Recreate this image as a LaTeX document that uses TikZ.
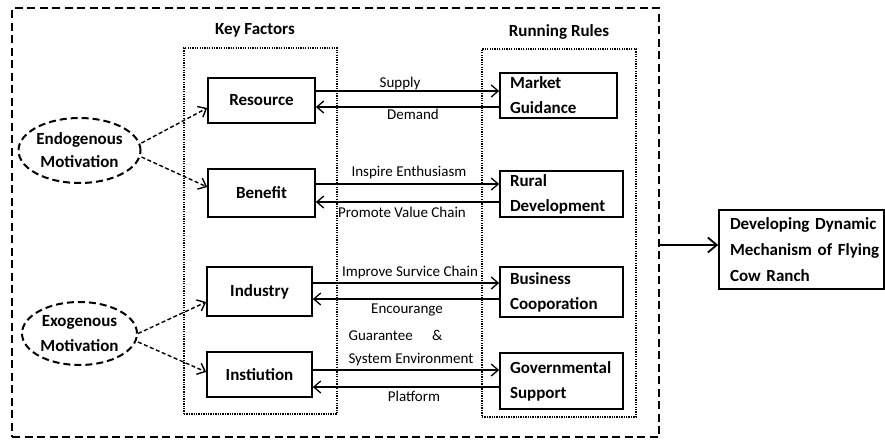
\documentclass[tikz,border=0pt]{standalone}
\usepackage{fontspec}
\setmainfont{Carlito}
\usetikzlibrary{arrows.meta,shapes.geometric}
\begin{document}
\begin{tikzpicture}[x=1pt,y=-1pt,
  box/.style={draw, line width=1.6pt, font=\bfseries\fontsize{17}{25}\selectfont, inner sep=0pt, align=center},
  rbox/.style={draw, line width=1.6pt, font=\bfseries\fontsize{17}{25}\selectfont, inner ysep=0pt, inner xsep=10pt, align=left},
  ell/.style={ellipse, draw, line width=2pt, dash pattern=on 7pt off 4pt, inner sep=0pt, align=center},
  frame/.style={draw, line width=2.5pt, dash pattern=on 8pt off 4.5pt, inner sep=0pt},
  dotbox/.style={draw, line width=1.3pt, dash pattern=on 1.3pt off 1.1pt, inner sep=0pt},
  head/.style={font=\bfseries\fontsize{17}{20}\selectfont},
  lab/.style={font=\fontsize{15}{23}\selectfont, inner sep=0pt},
  arr/.style={line width=1.2pt, -{Straight Barb[length=7pt,width=12pt,line width=1.3pt]}},
  darr/.style={line width=1.4pt, dash pattern=on 4pt off 2.5pt, -{Straight Barb[length=7pt,width=12pt,line width=1.4pt]}},
  bigarr/.style={line width=1.8pt, -{Straight Barb[length=9pt,width=15pt,line width=1.8pt]}}
]
\useasboundingbox (0,0) rectangle (885,439);

% frames
\node[frame, minimum width=647pt, minimum height=429pt] (frame) at (335.5,222.5) {};
\node[dotbox, minimum width=153pt, minimum height=366pt] (kf) at (260.5,231) {};
\node[dotbox, minimum width=154pt, minimum height=368pt] (rr) at (559,233) {};
\node[head] (kfl) at (255,30) {Key Factors};
\node[head] (rrl) at (559,32) {Running Rules};

% left boxes
\node[box, minimum width=107pt, minimum height=45pt] (res) at (261.5,100.5) {Resource};
\node[box, minimum width=107pt, minimum height=48pt] (ben) at (261.5,193) {Benefit};
\node[box, minimum width=105pt, minimum height=49pt] (ind) at (259.5,291.5) {Industry};
\node[box, minimum width=105pt, minimum height=45pt] (ins) at (259.5,374.5) {Instiution};

% right boxes
\node[rbox, text width=97pt, minimum height=45pt] (mg) at (558.5,95.5) {Market\\Guidance};
\node[rbox, text width=103pt, minimum height=46pt] (rd) at (561.5,194) {Rural\\Development};
\node[rbox, text width=103pt, minimum height=50pt] (bc) at (561.5,292) {Business\\Cooporation};
\node[rbox, text width=103pt, minimum height=56pt] (gs) at (561.5,381) {Governmental\\Support};

% result box
\node[draw, line width=1.6pt, font=\bfseries\fontsize{17}{26}\selectfont, inner ysep=0pt, inner xsep=11pt, align=left, text width=143pt, minimum height=79pt] (dev) at (801.5,249.5) {\makebox[148pt][s]{Developing Dynamic}\\\mbox{Mechanism of Flying}\\Cow Ranch};

% ellipses
\node[ell, minimum width=115pt, minimum height=65pt, font=\bfseries\fontsize{17}{23}\selectfont] (endo) at (79.5,150.5) {Endogenous\\Motivation};
\node[ell, minimum width=115pt, minimum height=63pt, font=\bfseries\fontsize{17}{25}\selectfont] (exo) at (79.5,333.5) {Exogenous\\Motivation};

% ellipse arrows
\draw[darr] ([yshift=7.5pt]endo.east) -- ([yshift=-7.5pt]res.west);
\draw[darr] ([yshift=-6.5pt]endo.east) -- ([yshift=6pt]ben.west);
\draw[darr] (exo.east) -- ([yshift=-10.5pt]ind.west);
\draw[darr] ([yshift=-8.5pt]exo.east) -- ([yshift=2.5pt]ins.west);

% two-way arrows
\draw[arr] ([yshift=9.5pt]res.east) -- ([yshift=9.5pt]res.east -| mg.west)
  node[lab, midway, yshift=8pt, xshift=-7.5pt] (l1) {Supply};
\draw[arr] ([yshift=-6.5pt]res.east -| mg.west) -- ([yshift=-6.5pt]res.east)
  node[lab, midway, yshift=-7pt, xshift=5.5pt] (l2) {Demand};

\draw[arr] ([yshift=9pt]ben.east) -- ([yshift=9pt]ben.east -| rd.west)
  node[lab, midway, yshift=12pt, xshift=1.5pt] (l3) {Inspire Enthusiasm};
\draw[arr] ([yshift=-9pt]ben.east -| rd.west) -- ([yshift=-9pt]ben.east)
  node[lab, midway, yshift=-10pt, xshift=-5.5pt] (l4) {Promote Value Chain};

\draw[arr] ([yshift=8.5pt]ind.east) -- ([yshift=8.5pt]ind.east -| bc.west)
  node[lab, midway, yshift=11pt, xshift=4pt] (l5) {Improve Survice Chain};
\draw[arr] ([yshift=-7.5pt]ind.east -| bc.west) -- ([yshift=-7.5pt]ind.east)
  node[lab, midway, yshift=-11pt, xshift=1pt] (l6) {Encourange};

\draw[arr] ([yshift=4.5pt]ins.east) -- ([yshift=4.5pt]ins.east -| gs.west)
  node[lab, midway, yshift=21.5pt, xshift=5pt, align=left] (l7) {Guarantee\hspace{1.3em}\&\\System Environment};
\draw[arr] ([yshift=-12.5pt]ins.east -| gs.west) -- ([yshift=-12.5pt]ins.east)
  node[lab, midway, yshift=-9pt, xshift=8pt] (l8) {Platform};

% main arrow
\draw[bigarr] ([yshift=4.5pt]dev.west -| frame.east) -- ([yshift=4.5pt]dev.west);
\end{tikzpicture}
\end{document}
